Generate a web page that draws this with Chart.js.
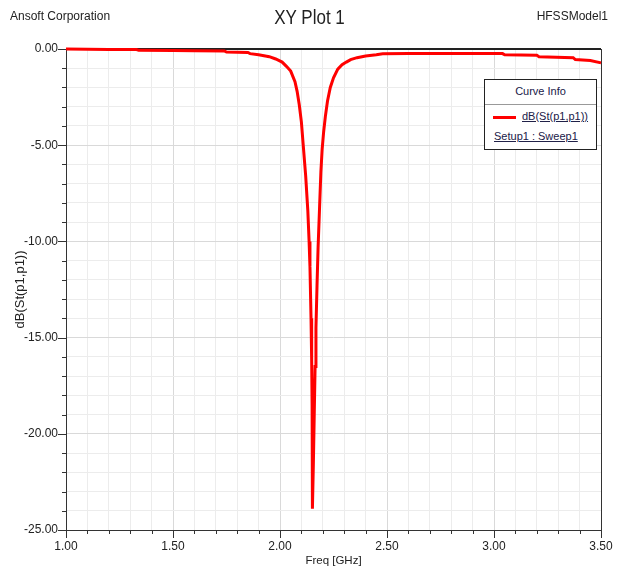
<!DOCTYPE html>
<html>
<head>
<meta charset="utf-8">
<script src="https://cdn.jsdelivr.net/npm/chart.js@4.4.0/dist/chart.umd.min.js"></script>
<style>
body { margin: 0; background: #fff; font-family: "Liberation Sans", Arial, sans-serif; color: #222; }
#wrap { position: relative; width: 617px; height: 572px; }
#chart { position: absolute; left: 0; top: 0; }
.hdr { position: absolute; top: 9px; font-size: 12px; white-space: nowrap; }
#company { left: 10px; }
#model { right: 9px; }
#plot-title { position: absolute; left: 0; top: 6px; width: 620px; text-align: center; font-size: 20px; }
#plot-title span { display: inline-block; transform: scaleX(0.85); }
#curve-info { position: absolute; left: 484px; top: 79px; width: 113px; height: 71px; box-sizing: border-box;
  border: 1px solid #222; background: #fff; font-size: 11px; color: #202048; }
#curve-info div, #curve-info span { position: absolute; white-space: nowrap; }
#curve-info .head { left: 0; top: 5px; width: 100%; text-align: center; }
#curve-info .sep { left: 0; top: 24px; width: 100%; height: 1px; background: #999; }
#curve-info .swatch { left: 8px; top: 36px; width: 23px; height: 3px; background: #ff0000; }
#curve-info .u { text-decoration: underline; }
#curve-info .n1 { left: 37px; top: 30px; }
#curve-info .n2 { left: 9px; top: 50px; }
</style>
</head>
<body>
<div id="wrap">
  <canvas id="chart" width="617" height="572"></canvas>
  <div class="hdr" id="company">Ansoft Corporation</div>
  <div id="plot-title"><span>XY Plot 1</span></div>
  <div class="hdr" id="model">HFSSModel1</div>
  <div id="curve-info">
    <div class="head">Curve Info</div>
    <div class="sep"></div>
    <div class="swatch"></div>
    <span class="u n1">dB(St(p1,p1))</span>
    <span class="u n2">Setup1 : Sweep1</span>
  </div>
</div>
<script>
// sweep
const freqGHz = [1.00, 1.10, 1.20, 1.33, 1.34, 1.50, 1.60, 1.74, 1.75, 1.85, 1.86, 1.90,
  1.95, 1.98, 2.01, 2.03, 2.05, 2.07, 2.08, 2.09, 2.10, 2.11, 2.12, 2.13, 2.136, 2.14,
  2.145, 2.148, 2.150, 2.151, 2.152, 2.156, 2.160, 2.164, 2.168, 2.173, 2.178, 2.185,
  2.191, 2.197, 2.204, 2.212, 2.222, 2.235, 2.25, 2.27, 2.29, 2.31, 2.33, 2.36, 2.40, 2.45,
  2.48, 2.60, 2.80, 3.04, 3.05, 3.20, 3.21, 3.37, 3.38, 3.45, 3.50];
const s11dB = [0.00, -0.01, -0.02, -0.03, -0.07, -0.08, -0.09, -0.10, -0.16, -0.18, -0.24, -0.30,
  -0.40, -0.52, -0.68, -0.90, -1.15, -1.70, -2.20, -2.90, -3.80, -5.20, -6.60, -8.40, -10.0, -11.3,
  -14.0, -16.2, -18.5, -21.0, -23.9, -21.5, -19.0, -16.5, -14.5, -12.3, -10.3, -8.2,
  -6.4, -5.2, -4.3, -3.5, -2.7, -2.0, -1.5, -1.05, -0.82, -0.68, -0.55, -0.45, -0.36, -0.30,
  -0.25, -0.24, -0.24, -0.24, -0.30, -0.32, -0.40, -0.45, -0.55, -0.60, -0.72];
const xRange = [1.0, 3.5];
const yRange = [-25, 0];

const points = freqGHz.map((f, i) => ({x: f, y: s11dB[i]}));

const isMajorX = v => Math.abs(v * 2 - Math.round(v * 2)) < 1e-6;
const isMajorY = v => Math.abs(v / 5 - Math.round(v / 5)) < 1e-6;

// frame + short/long tick marks, drawn under the curve
const frame = {
  id: "frame",
  beforeDatasetsDraw(chart) {
    const {ctx, chartArea: a, scales} = chart;
    ctx.save();
    ctx.strokeStyle = "#333";
    ctx.lineWidth = 1;
    ctx.beginPath();
    scales.x.ticks.forEach(t => {
      const px = Math.round(scales.x.getPixelForValue(t.value)) + 0.5;
      const len = t.label ? 8 : 4;
      ctx.moveTo(px, a.bottom);
      ctx.lineTo(px, a.bottom + len);
    });
    scales.y.ticks.forEach(t => {
      const py = Math.round(scales.y.getPixelForValue(t.value)) + 0.5;
      const len = t.label ? 8 : 4;
      ctx.moveTo(a.left - len, py);
      ctx.lineTo(a.left, py);
    });
    ctx.stroke();
    ctx.strokeRect(Math.round(a.left) + 0.5, Math.round(a.top) + 0.5, a.right - a.left, a.bottom - a.top);
    ctx.lineWidth = 2;
    ctx.strokeStyle = "#222";
    ctx.beginPath();
    ctx.moveTo(a.left, a.top);
    ctx.lineTo(a.right, a.top);
    ctx.stroke();
    ctx.restore();
  }
};

const tickFont = {family: "'Liberation Sans', Arial, sans-serif", size: 12};

let chart = new Chart("chart", {
  type: "scatter",
  data: {
    datasets: [{
      label: "dB(St(p1,p1))",
      data: points,
      showLine: true,
      borderColor: "#ff0000",
      borderWidth: 3,
      pointRadius: 0,
      tension: 0,
      clip: false
    }]
  },
  options: {
    responsive: false,
    animation: false,
    devicePixelRatio: 1,
    layout: {padding: {left: 0, right: 16, top: 49, bottom: 0}},
    plugins: {legend: {display: false}, title: {display: false}, tooltip: {enabled: false}},
    scales: {
      x: {
        type: "linear",
        min: xRange[0],
        max: xRange[1],
        afterFit: s => { s.height = 42; },
        border: {display: false},
        grid: {
          color: c => isMajorX(c.tick.value) ? "#d9d9d9" : "#ececec",
          tickLength: 8,
          tickColor: "rgba(0,0,0,0)"
        },
        ticks: {
          stepSize: 0.1,
          autoSkip: false,
          maxRotation: 0,
          padding: 1,
          color: "#222",
          font: tickFont,
          callback: v => isMajorX(v) ? v.toFixed(2) : ""
        },
        title: {display: true, text: "Freq [GHz]", color: "#222", font: {family: tickFont.family, size: 11.5}, padding: {top: 0, bottom: 4}}
      },
      y: {
        min: yRange[0],
        max: yRange[1],
        afterFit: s => { s.width = 66; },
        border: {display: false},
        grid: {
          color: c => isMajorY(c.tick.value) ? "#d9d9d9" : "#ececec",
          tickLength: 8,
          tickColor: "rgba(0,0,0,0)"
        },
        ticks: {
          stepSize: 1,
          autoSkip: false,
          padding: 0,
          color: "#222",
          font: tickFont,
          callback: v => isMajorY(v) ? v.toFixed(2) : ""
        },
        title: {display: true, text: "dB(St(p1,p1))", color: "#222", font: {family: tickFont.family, size: 13}, padding: {top: 13, bottom: 0}}
      }
    }
  },
  plugins: [frame]
});
</script>
</body>
</html>
